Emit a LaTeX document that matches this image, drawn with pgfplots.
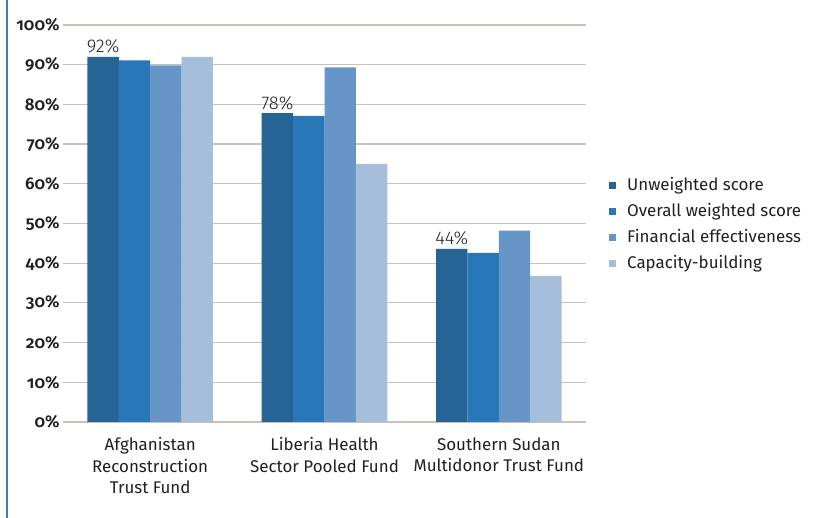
\documentclass[border=0pt]{standalone}
\usepackage{pgfplots}
\pgfplotsset{compat=1.18}
\usepackage{fontspec}
\setmainfont{Fira Sans}
\newfontfamily\lightfont{Fira Sans Light}
\newfontfamily\tickfont[Numbers=OldStyle]{Fira Sans SemiBold}
\definecolor{c1}{RGB}{38,100,150}
\definecolor{c2}{RGB}{40,120,185}
\definecolor{c3}{RGB}{102,150,200}
\definecolor{c4}{RGB}{164,190,220}
\definecolor{gridgray}{RGB}{200,192,185}
\definecolor{borderblue}{RGB}{70,120,190}
\definecolor{txt}{RGB}{35,31,32}
\begin{document}
\begin{tikzpicture}
\useasboundingbox (0,0) rectangle (823bp,518bp);
\fill[white] (0,0) rectangle (823bp,518bp);
\draw[borderblue, line width=1.5bp] (7bp,0) -- (7bp,518bp);
\begin{axis}[
  at={(63bp,96bp)}, anchor=south west,
  scale only axis, width=523bp, height=397bp,
  ymin=0, ymax=100, xmin=-0.5, xmax=2.5,
  ybar=0pt, bar width=0.18,
  axis line style={draw=none},
  major tick length=0,
  /pgf/number format/assume math mode=true,
  ytick={0,10,...,100},
  yticklabel={\pgfmathprintnumber{\tick}\%},
  yticklabel style={font=\tickfont\fontsize{17}{17}\selectfont, text=txt},
  xtick={0,1,2},
  xticklabels={{Afghanistan\\Reconstruction\\Trust Fund},{Liberia Health\\Sector Pooled Fund},{Southern Sudan\\Multidonor Trust Fund}},
  xticklabel style={align=center, font=\fontsize{17}{21.5}\selectfont, text=txt, yshift=-12bp},
  ymajorgrids, grid style={gridgray, line width=1.2bp},
  legend cell align=left,
  legend style={at={(1,0.62)}, anchor=north west, xshift=20bp, draw=none, fill=none,
    font=\fontsize{17}{17}\selectfont, text=txt,
    nodes={inner sep=0pt, text height=12bp, text depth=3.5bp},
    row sep=10.5bp, /tikz/every odd column/.style={column sep=11bp}},
]
\addplot[fill=c1, draw=none,
  legend image code/.code={\fill[c1] (0bp,-3.5bp) rectangle (7bp,3.5bp);},
  nodes near coords={\pgfmathprintnumber[fixed,precision=0]{\pgfplotspointmeta}\%},
  nodes near coords style={font=\lightfont\fontsize{18.5}{18.5}\selectfont, text=txt}]
  coordinates {(0,92) (1,77.8) (2,43.6)};
\addplot[fill=c2, draw=none,
  legend image code/.code={\fill[c2] (0bp,-3.5bp) rectangle (7bp,3.5bp);}]
  coordinates {(0,91.1) (1,77.1) (2,42.6)};
\addplot[fill=c3, draw=none,
  legend image code/.code={\fill[c3] (0bp,-3.5bp) rectangle (7bp,3.5bp);}]
  coordinates {(0,89.8) (1,89.3) (2,48.2)};
\addplot[fill=c4, draw=none,
  legend image code/.code={\fill[c4] (0bp,-3.5bp) rectangle (7bp,3.5bp);}]
  coordinates {(0,92) (1,65) (2,36.8)};
\legend{Unweighted score, Overall weighted score, Financial effectiveness, Capacity-building}
\end{axis}
\end{tikzpicture}
\end{document}
